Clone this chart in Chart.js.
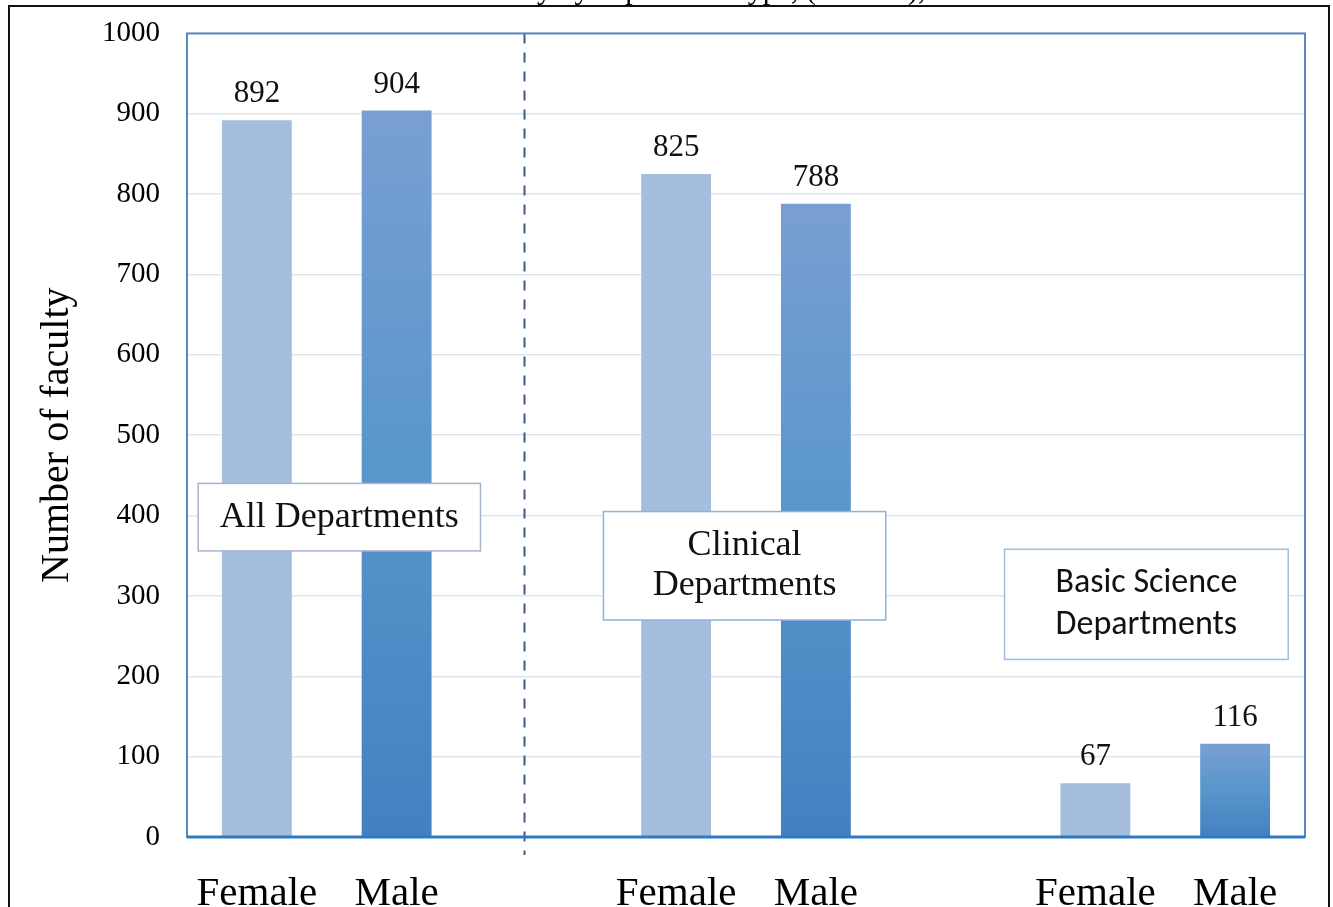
<!DOCTYPE html>
<html>
<head>
<meta charset="utf-8">
<script src="https://cdn.jsdelivr.net/npm/chart.js@4"></script>
<style>
    body { margin: 0; background: #fff; }
    #wrap { position: relative; width: 1333px; height: 907px; overflow: hidden; }
    #facultyChart { position: absolute; left: 0; top: -11px; }
    #frame { position: absolute; left: 8px; top: 5px; width: 1318px; height: 940px; border: 2px solid #111; pointer-events: none; }
    #cut { position: absolute; left: 0; top: 0; width: 1333px; height: 5px; overflow: hidden; }
    #cut span { position: absolute; left: 462px; top: -28px; font: 30px "Liberation Serif", serif; color: #000; white-space: nowrap; }
</style>
</head>
<body>
<div id="wrap">
    <canvas id="facultyChart" width="1333" height="918"></canvas>
    <div id="cut"><span>Faculty by department type, (n=1796),</span></div>
    <div id="frame"></div>
</div>
<script>
// 数据
var groups = ['All Departments', 'Clinical Departments', 'Basic Science Departments'];
var femaleCounts = [892, 825, 67];
var maleCounts = [904, 788, 116];
var yTicks = [0, 100, 200, 300, 400, 500, 600, 700, 800, 900, 1000];

// 8 slots: F, M, gap, F, M, gap, F, M
var slotLabels = [];
var femaleData = [];
var maleData = [];
groups.forEach(function(g, i) {
    if (i > 0) { slotLabels.push(''); femaleData.push(null); maleData.push(null); }
    slotLabels.push('Female'); femaleData.push(femaleCounts[i]); maleData.push(null);
    slotLabels.push('Male'); femaleData.push(null); maleData.push(maleCounts[i]);
});

// label boxes, in category / value units
var boxes = [
    { lines: ['All Departments'], x0: -0.42, x1: 1.6, y0: 440, y1: 356, font: '36px "Liberation Serif", serif', border: '#a7b5c9', step: 41 },
    { lines: ['Clinical', 'Departments'], x0: 2.48, x1: 4.5, y0: 405, y1: 270, font: '36px "Liberation Serif", serif', border: '#8fb2de', step: 40 },
    { lines: ['Basic Science', 'Departments'], x0: 5.35, x1: 7.38, y0: 358, y1: 221, font: '34px Carlito, "Liberation Sans", sans-serif', border: '#9dbde3', step: 42 }
];
var dividerAt = 1.915;

function maleFill(ctx) {
    var chart = ctx.chart;
    if (!chart.chartArea || ctx.raw == null) return '#5a93cb';
    var y = chart.scales.y;
    var g = chart.ctx.createLinearGradient(0, y.getPixelForValue(ctx.raw), 0, y.getPixelForValue(0));
    g.addColorStop(0, '#7a9fd2');
    g.addColorStop(0.5, '#5896cb');
    g.addColorStop(1, '#4480c0');
    return g;
}

function slotPx(x, v) {
    var a = x.getPixelForValue(0), b = x.getPixelForValue(1);
    return a + v * (b - a);
}

var extras = {
    id: 'extras',
    beforeDatasetsDraw: function(chart) {
        var c = chart.ctx, area = chart.chartArea;
        var px = slotPx(chart.scales.x, dividerAt);
        c.save();
        c.strokeStyle = '#3d5c7e';
        c.lineWidth = 2;
        c.setLineDash([10, 9]);
        c.beginPath();
        c.moveTo(px, area.top);
        c.lineTo(px, area.bottom + 18);
        c.stroke();
        c.restore();
    },
    afterDatasetsDraw: function(chart) {
        var c = chart.ctx, area = chart.chartArea;
        var x = chart.scales.x, y = chart.scales.y;
        c.save();
        // plot frame
        c.strokeStyle = '#5b88c2';
        c.lineWidth = 2;
        c.strokeRect(area.left, area.top, area.right - area.left, area.bottom - area.top);
        c.strokeStyle = '#2d7ac4';
        c.lineWidth = 3;
        c.beginPath();
        c.moveTo(area.left, area.bottom);
        c.lineTo(area.right, area.bottom);
        c.stroke();
        // value labels
        c.fillStyle = '#111';
        c.font = '31px "Liberation Serif", serif';
        c.textAlign = 'center';
        c.textBaseline = 'alphabetic';
        chart.data.datasets.forEach(function(ds, di) {
            chart.getDatasetMeta(di).data.forEach(function(bar, i) {
                if (ds.data[i] == null) return;
                c.fillText(String(ds.data[i]), bar.x, bar.y - 18);
            });
        });
        // group boxes
        boxes.forEach(function(b) {
            var l = slotPx(x, b.x0), r = slotPx(x, b.x1);
            var t = y.getPixelForValue(b.y0), btm = y.getPixelForValue(b.y1);
            c.fillStyle = '#fff';
            c.fillRect(l, t, r - l, btm - t);
            c.strokeStyle = b.border;
            c.lineWidth = 1.5;
            c.strokeRect(l, t, r - l, btm - t);
            c.fillStyle = '#111';
            c.font = b.font;
            c.textBaseline = 'middle';
            var cx = (l + r) / 2, cy = (t + btm) / 2;
            b.lines.forEach(function(s, k) {
                c.fillText(s, cx, cy + (k - (b.lines.length - 1) / 2) * b.step);
            });
        });
        c.restore();
    }
};

var myChart = new Chart(document.getElementById('facultyChart'), {
    type: 'bar',
    data: {
        labels: slotLabels,
        datasets: [{
            label: 'Female',
            data: femaleData,
            backgroundColor: '#a5bedd',
            grouped: false,
            categoryPercentage: 1,
            barPercentage: 0.5
        }, {
            label: 'Male',
            data: maleData,
            backgroundColor: maleFill,
            grouped: false,
            categoryPercentage: 1,
            barPercentage: 0.5
        }]
    },
    options: {
        responsive: false,
        animation: false,
        layout: { autoPadding: false, padding: { top: 33, right: 28, bottom: 0, left: 0 } },
        plugins: { legend: { display: false }, tooltip: { enabled: false } },
        scales: {
            x: {
                grid: { display: false },
                border: { display: false },
                ticks: {
                    color: '#000',
                    font: { family: '"Liberation Serif", serif', size: 41 },
                    padding: 25,
                    maxRotation: 0
                },
                afterFit: function(s) { s.height = 70; }
            },
            y: {
                min: 0,
                max: 1000,
                afterBuildTicks: function(s) { s.ticks = yTicks.map(function(v) { return { value: v }; }); },
                grid: { color: '#dfe5ef', lineWidth: 1.5, drawTicks: false },
                border: { display: false },
                ticks: {
                    color: '#000',
                    font: { family: '"Liberation Serif", serif', size: 29 },
                    padding: 27,
                    callback: function(v) { return String(v); }
                },
                title: {
                    display: true,
                    text: 'Number of faculty',
                    color: '#000',
                    font: { family: '"Liberation Serif", serif', size: 40 },
                    padding: { top: 33, bottom: 0 }
                },
                afterFit: function(s) { s.width = 187; }
            }
        }
    },
    plugins: [extras]
});
</script>
</body>
</html>
